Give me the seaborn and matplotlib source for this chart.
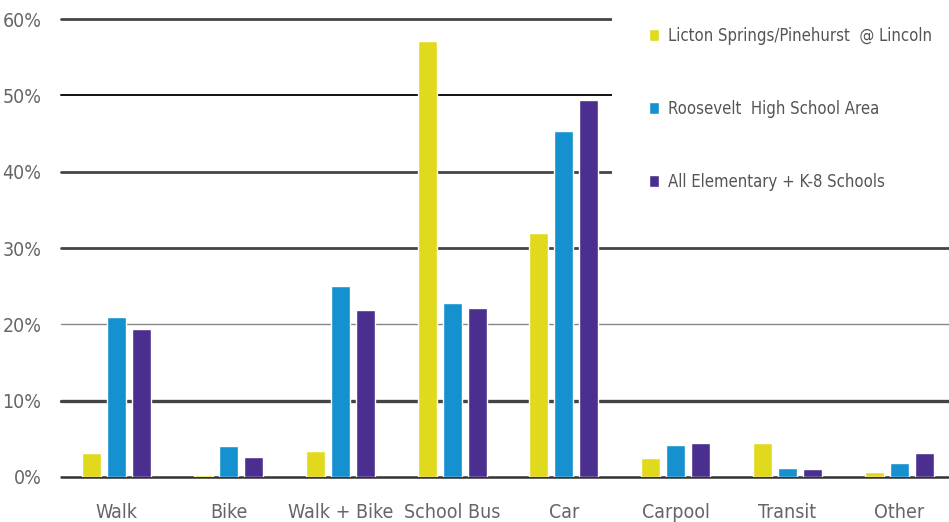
import pandas as pd
import numpy as np
import matplotlib
matplotlib.use("Agg")
import matplotlib.pyplot as plt
from matplotlib.patches import Rectangle
import seaborn as sns

# categories and series (percent of students by travel mode)
modes = ["Walk", "Bike", "Walk + Bike", "School Bus", "Car", "Carpool", "Transit", "Other"]
series = ["Licton Springs/Pinehurst  @ Lincoln", "Roosevelt  High School Area", "All Elementary + K-8 Schools"]
licton = [3.2, 0.3, 3.4, 57.1, 32.0, 2.5, 4.4, 0.6]
roosevelt = [21.0, 4.0, 25.0, 22.8, 45.3, 4.2, 1.2, 1.8]
all_elem = [19.4, 2.6, 21.9, 22.1, 49.4, 4.4, 1.0, 3.2]
yticks = [0, 10, 20, 30, 40, 50, 60]

colors = ["#E0D91E", "#1591D0", "#4A2F8E"]

# long form table for seaborn
df = pd.DataFrame({
    "mode": modes * 3,
    "group": [series[0]] * 8 + [series[1]] * 8 + [series[2]] * 8,
    "pct": licton + roosevelt + all_elem,
})

sns.set_theme(style="white")
plt.rcParams['font.family'] = ['DejaVu Sans']
plt.rcParams['font.stretch'] = 'condensed'

fig = plt.figure(figsize=(9.49, 5.22), dpi=100)
ax = fig.add_axes([61 / 949, 45 / 522, 894 / 949, 458 / 522])

sns.barplot(data=df, x="mode", y="pct", hue="group", order=modes, hue_order=series,
            palette=colors, width=0.67, gap=0.24, saturation=1, ax=ax, legend=True)

# gridlines drawn by hand, they are not all the same weight in the original
line_style = {0: ("#333333", 1.8), 10: ("#444444", 2.4), 20: ("#888888", 1.0),
              30: ("#444444", 2.0), 40: ("#444444", 2.0), 50: ("#111111", 1.4),
              60: ("#444444", 2.0)}
for y in yticks:
    c, w = line_style[y]
    ax.axhline(y, color=c, lw=w, zorder=0, clip_on=False)

# white block behind the legend hides the upper gridlines there
ax.add_patch(Rectangle((612 / 949, 1 - 210 / 522), 1, 210 / 522, transform=fig.transFigure,
                       facecolor="white", edgecolor="none", zorder=0.5, clip_on=False))

ax.set_ylim(0, 60)
ax.set_xlim(-0.5, 7.5)
ax.set_yticks(yticks)
ax.set_yticklabels([f"{v}%" for v in yticks], color="#666666", fontsize=14)
ax.tick_params(axis="x", labelsize=14, labelcolor="#666666", pad=19, length=0)
ax.tick_params(axis="y", pad=14, length=0)
ax.set_xlabel("")
ax.set_ylabel("")
for s in ax.spines.values():
    s.set_visible(False)

leg = ax.legend(loc="upper left", bbox_to_anchor=(649 / 949, 1 - 27 / 522),
                bbox_transform=fig.transFigure, frameon=False,
                fontsize=12, labelspacing=3.3, handlelength=0.6, handleheight=0.75,
                handletextpad=0.55, borderaxespad=0, borderpad=0)
for t in leg.get_texts():
    t.set_color("#555555")

plt.savefig("out.png", dpi=100)
